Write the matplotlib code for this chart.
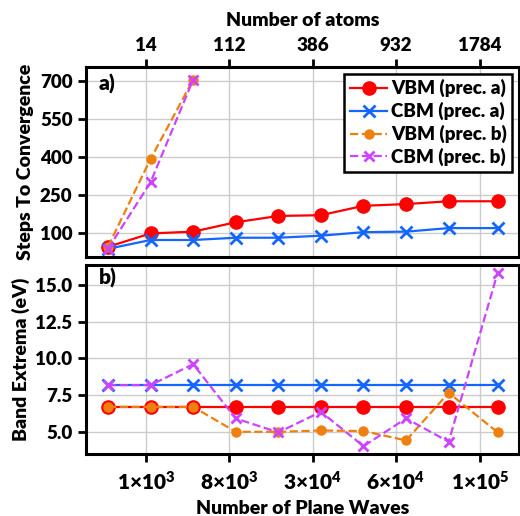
import matplotlib
matplotlib.use('Agg')
import matplotlib.pyplot as plt

plt.rcParams['font.family'] = ['Lato', 'DejaVu Sans']
plt.rcParams['font.weight'] = 'heavy'
plt.rcParams['axes.labelweight'] = 'heavy'
plt.rcParams['mathtext.fontset'] = 'custom'
plt.rcParams['mathtext.rm'] = 'Lato:heavy'
plt.rcParams['mathtext.bf'] = 'Lato:heavy'
plt.rcParams['mathtext.default'] = 'bf'

# supercell positions along x
x = [1, 2, 3, 4, 5, 6, 7, 8, 9, 10.15]
x_b = [1, 2, 3]

# steps to convergence
steps_vbm_a = [45, 98, 105, 142, 167, 170, 207, 214, 225, 225]
steps_cbm_a = [37, 72, 72, 81, 81, 89, 103, 105, 119, 119]
steps_vbm_b = [45, 392, 705]
steps_cbm_b = [37, 300, 705]

# band extrema (eV)
band_vbm_a = [6.7] * 10
band_cbm_a = [8.2] * 10
band_vbm_b = [6.7, 6.7, 6.7, 5.0, 5.0, 5.09, 5.05, 4.41, 7.66, 4.96]
band_cbm_b = [8.18, 8.18, 9.61, 5.91, 4.96, 6.36, 4.02, 5.91, 4.32, 15.85]

tick_pos = [1.89, 3.84, 5.81, 7.76, 9.73]
pw_labels = [r'1$\times$10$^{3}$', r'8$\times$10$^{3}$', r'3$\times$10$^{4}$',
             r'6$\times$10$^{4}$', r'1$\times$10$^{5}$']
atom_labels = ['14', '112', '386', '932', '1784']

c_red = '#ff0000'
c_blue = '#1466ff'
c_orange = '#ee8010'
c_purple = '#cc44ff'

fig = plt.figure(figsize=(5.2, 5.16), dpi=100)
ax1 = fig.add_axes([0.165, 0.502, 0.833, 0.368])
ax2 = fig.add_axes([0.165, 0.120, 0.833, 0.366])


def style(ax):
    for s in ax.spines.values():
        s.set_linewidth(2.2)
    ax.grid(True, color='#cccccc', lw=1)
    ax.set_axisbelow(True)
    ax.tick_params(width=2, length=6, labelsize=13.5)
    ax.set_xlim(0.48, 10.65)
    ax.set_xticks(tick_pos)


def draw(ax, va, ca, vb, cb, xb):
    ax.plot(x, va, '-o', color=c_red, lw=1.6, ms=9.5, label='VBM (prec. a)')
    ax.plot(x, ca, '-x', color=c_blue, lw=1.6, ms=9, mew=2, label='CBM (prec. a)')
    ax.plot(xb, vb, '--o', color=c_orange, lw=1.6, ms=6.5, label='VBM (prec. b)')
    ax.plot(xb, cb, '--x', color=c_purple, lw=1.6, ms=7, mew=2, label='CBM (prec. b)')


draw(ax1, steps_vbm_a, steps_cbm_a, steps_vbm_b, steps_cbm_b, x_b)
style(ax1)
ax1.set_ylim(5, 755)
ax1.set_yticks([100, 250, 400, 550, 700])
ax1.xaxis.set_ticks_position('top')
ax1.xaxis.set_label_position('top')
ax1.set_xticklabels(atom_labels)
ax1.set_xlabel('Number of atoms', fontsize=14, labelpad=8)
ax1.set_ylabel('Steps To Convergence', fontsize=14)
ax1.text(0.03, 0.965, 'a)', transform=ax1.transAxes, fontsize=15,
         va='top')
leg = ax1.legend(loc='upper right', fontsize=13.5, fancybox=False,
                 edgecolor='black', framealpha=1, borderpad=0.3,
                 handlelength=2.0, handletextpad=0.2, labelspacing=0.25,
                 borderaxespad=0.35)
leg.get_frame().set_linewidth(1.8)

draw(ax2, band_vbm_a, band_cbm_a, band_vbm_b, band_cbm_b, x)
style(ax2)
ax2.set_ylim(3.48, 16.36)
ax2.set_yticks([5.0, 7.5, 10.0, 12.5, 15.0])
ax2.set_yticklabels(['5.0', '7.5', '10.0', '12.5', '15.0'])
ax2.set_xticklabels(pw_labels, fontsize=15)
ax2.tick_params(axis='x', pad=6)
ax2.set_xlabel('Number of Plane Waves', fontsize=14, labelpad=4)
ax2.set_ylabel('Band Extrema (eV)', fontsize=14)
ax2.text(0.03, 0.985, 'b)', transform=ax2.transAxes, fontsize=15,
         va='top')

fig.align_ylabels([ax1, ax2])
fig.savefig('out.png', dpi=100)
